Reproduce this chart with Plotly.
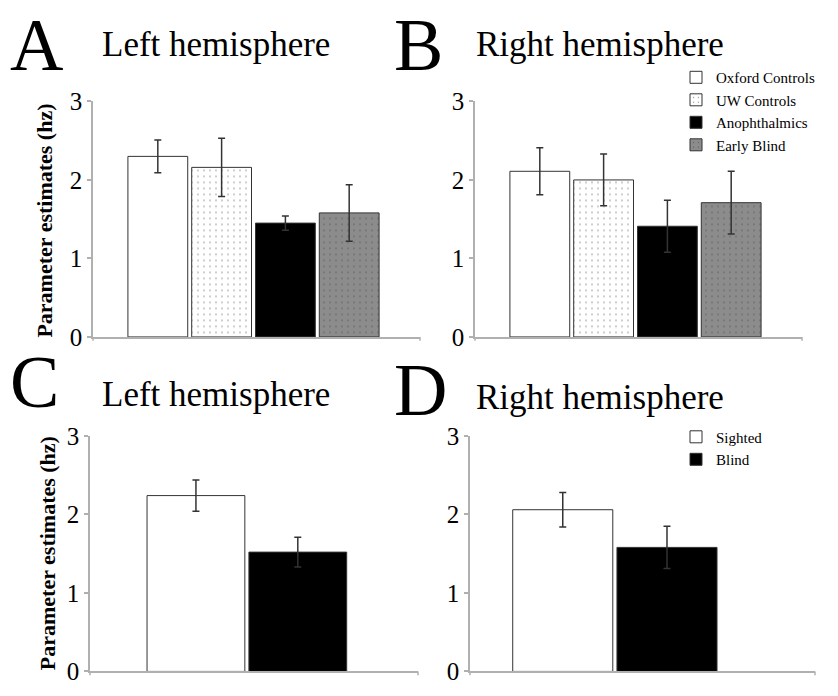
import plotly.graph_objects as go

W, H = 838, 696

# ---------------- data ----------------
groups_ab = ["Oxford Controls", "UW Controls", "Anophthalmics", "Early Blind"]
left_ab = [2.30, 2.16, 1.45, 1.58]
left_ab_err = [0.21, 0.37, 0.09, 0.36]
right_ab = [2.11, 2.00, 1.41, 1.71]
right_ab_err = [0.30, 0.33, 0.33, 0.40]

groups_cd = ["Sighted", "Blind"]
left_cd = [2.24, 1.52]
left_cd_err = [0.20, 0.19]
right_cd = [2.06, 1.58]
right_cd_err = [0.22, 0.27]

y_ticks = [0, 1, 2, 3]
panel_letters = ["A", "B", "C", "D"]
panel_titles = ["Left hemisphere", "Right hemisphere", "Left hemisphere", "Right hemisphere"]
y_title = "Parameter estimates (hz)"

# ---------------- styles ----------------
FONT = "Liberation Serif, serif"
styles_ab = [
    dict(color="white"),
    dict(color="white", pattern=dict(shape=".", fgcolor="#222", bgcolor="white", size=6, solidity=0.06)),
    dict(color="black"),
    dict(color="#8c8c8c", pattern=dict(shape=".", fgcolor="#333", bgcolor="#8c8c8c", size=6, solidity=0.06)),
]
styles_cd = [dict(color="white"), dict(color="black")]

def px_x(p):
    return p / W

def px_y(p):
    return 1 - p / H

# axis pixel boxes: (x0, x1, ytop, ybottom)
boxes = [(93, 420, 92, 337), (475, 802, 92, 337), (90, 418, 440, 685), (470, 815, 440, 685)]
x_ranges = [[-1.016, 4.11], [-1.016, 4.11], [-1.04, 2.18], [-0.89, 2.42]]

fig = go.Figure()

def add_bars(vals, errs, cats, styles, axis_idx, legend, showlegend, width):
    xa = "x" if axis_idx == 1 else f"x{axis_idx}"
    ya = "y" if axis_idx == 1 else f"y{axis_idx}"
    for i, c in enumerate(cats):
        marker = dict(line=dict(color="#333", width=1))
        marker.update(styles[i])
        fig.add_trace(go.Bar(
            x=[c], y=[vals[i]], name=c, xaxis=xa, yaxis=ya,
            marker=marker, width=width,
            error_y=dict(type="data", array=[errs[i]], color="#333", thickness=1.5, width=3.5),
            showlegend=showlegend, legend=legend,
        ))

add_bars(left_ab, left_ab_err, groups_ab, styles_ab, 1, "legend", False, 0.9375)
add_bars(right_ab, right_ab_err, groups_ab, styles_ab, 2, "legend", True, 0.9375)
add_bars(left_cd, left_cd_err, groups_cd, styles_cd, 3, "legend2", False, 0.96)
add_bars(right_cd, right_cd_err, groups_cd, styles_cd, 4, "legend2", True, 0.96)

layout = dict(
    width=W, height=H, margin=dict(l=0, r=0, t=0, b=0),
    paper_bgcolor="white", plot_bgcolor="white",
    barmode="overlay",
    font=dict(family=FONT, color="black"),
    legend=dict(x=px_x(676), y=px_y(50), xanchor="left", yanchor="top",
                font=dict(family=FONT, size=15), bgcolor="rgba(0,0,0,0)",
                tracegroupgap=0, itemwidth=30),
    legend2=dict(x=px_x(676), y=px_y(424), xanchor="left", yanchor="top",
                 font=dict(family=FONT, size=15), bgcolor="rgba(0,0,0,0)",
                 tracegroupgap=0, itemwidth=30),
)
shapes = []
annotations = []
for k, (x0, x1, yt, yb) in enumerate(boxes):
    sfx = "" if k == 0 else str(k + 1)
    layout[f"xaxis{sfx}"] = dict(
        domain=[px_x(x0), px_x(x1)], anchor=f"y{sfx}", type="category",
        range=x_ranges[k], showticklabels=False, showgrid=False, zeroline=False,
        showline=True, linecolor="#b0b0b0", linewidth=1.5, ticks="",
        fixedrange=True,
    )
    layout[f"yaxis{sfx}"] = dict(
        domain=[px_y(yb), px_y(yt)], anchor=f"x{sfx}",
        range=[0, 3], tickvals=y_ticks, showgrid=False, zeroline=False,
        showline=True, linecolor="#b0b0b0", linewidth=1.5,
        ticks="outside", ticklen=4, tickcolor="#b0b0b0", tickwidth=1.5,
        tickfont=dict(family=FONT, size=25, color="black"),
        fixedrange=True,
    )
    # small end ticks on the x axis
    ax_x = "x" + sfx
    ax_y = "y" + sfx
    tick_h = 4.0 / (yb - yt)
    for xd in (0, 1):
        shapes.append(dict(type="line", xref=f"{ax_x} domain", yref=f"{ax_y} domain",
                           x0=xd, x1=xd, y0=0, y1=-tick_h,
                           line=dict(color="#b0b0b0", width=1.5)))

# panel letters and titles
letter_pos = [(8, -11, "top"), (392, -11, "top"), (8, 384, "middle"), (392, 392, "middle")]
title_pos = [(100, 33), (474, 33), (100, 397), (474, 400)]
for k in range(4):
    lx, ly, ya = letter_pos[k]
    annotations.append(dict(text=panel_letters[k], x=px_x(lx), y=px_y(ly), xref="paper", yref="paper",
                            xanchor="left", yanchor=ya, showarrow=False,
                            font=dict(family=FONT, size=74, color="black")))
    tx, ty = title_pos[k]
    annotations.append(dict(text=panel_titles[k], x=px_x(tx), y=px_y(ty), xref="paper", yref="paper",
                            xanchor="left", yanchor="middle", showarrow=False,
                            font=dict(family=FONT, size=35, color="black")))

# y-axis titles (left column only)
for (cx, cy) in [(45, 216), (47, 562)]:
    annotations.append(dict(text="<b>" + y_title + "</b>", x=px_x(cx), y=px_y(cy), xref="paper", yref="paper",
                            xanchor="center", yanchor="middle", showarrow=False, textangle=-90,
                            font=dict(family=FONT, size=22, color="black")))

layout["annotations"] = annotations
layout["shapes"] = shapes
fig.update_layout(**layout)
fig.write_html("out.html")
